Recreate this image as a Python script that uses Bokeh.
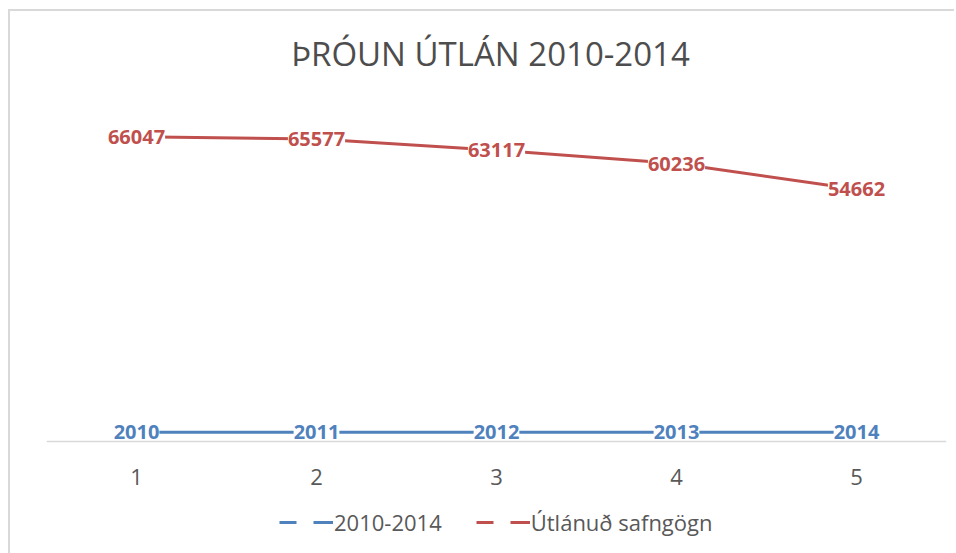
from bokeh.plotting import figure
from bokeh.layouts import column
from bokeh.models import ColumnDataSource, FactorRange, Range1d, Legend, LegendItem, Span, Label
from bokeh.core.properties import value
from bokeh.embed import file_html
from bokeh.resources import INLINE

# ---- data ----
categories = ["1", "2", "3", "4", "5"]
series_years = [2010, 2011, 2012, 2013, 2014]
series_loans = [66047, 65577, 63117, 60236, 54662]
series_names = ["2010-2014", "Útlánuð safngögn"]
title_text = "ÞRÓUN ÚTLÁN 2010-2014"
y_max = 70000

BLUE = "#4F81BD"
RED = "#C0504D"
GRAY_TXT = "#595959"
AXIS = "#D9D9D9"
FONT = "Open Sans"

# layout constants (pixels)
FRAME_H = 441          # frame height (title area included)
PLOT_H = 334           # height used by the value axis from y_min to y_max
y_min = -2384
y_top = y_min + (y_max - y_min) * FRAME_H / PLOT_H   # extra room above for the title

# ---------------- main chart ----------------
p = figure(width=944, height=491, title=None,
           x_range=FactorRange(factors=categories, range_padding=0),
           y_range=Range1d(y_min, y_top),
           output_backend="svg", toolbar_location=None,
           y_axis_location=None,
           min_border_left=36, min_border_right=8,
           min_border_top=0, min_border_bottom=50)
p.outline_line_color = None
p.grid.visible = False
p.background_fill_color = "white"
p.border_fill_color = "white"

xa = p.xaxis[0]
xa.axis_line_color = None
xa.major_tick_line_color = None
xa.minor_tick_line_color = None
xa.major_label_text_font = FONT
xa.major_label_text_font_size = "22px"
xa.major_label_text_color = GRAY_TXT
xa.major_label_standoff = 10

base = Span(location=0, dimension="width", line_color=AXIS, line_width=1.5, level="underlay")
p.add_layout(base)

title = Label(x=444, y=399, x_units="screen", y_units="screen", text=title_text,
              text_align="center", text_baseline="alphabetic",
              text_font=FONT, text_font_size="33px", text_color="#4D4D4D")
p.add_layout(title)

src = ColumnDataSource(data=dict(
    x=categories,
    years=series_years,
    loans=series_loans,
    years_txt=[str(v) for v in series_years],
    loans_txt=[str(v) for v in series_loans],
))

p.line(x="x", y="years", source=src, line_color=BLUE, line_width=3)
p.line(x="x", y="loans", source=src, line_color=RED, line_width=3)

for col, txt, color in [("years", "years_txt", BLUE), ("loans", "loans_txt", RED)]:
    p.text(x="x", y=col, text=txt, source=src,
           text_align="center", text_baseline="middle",
           text_font=value(FONT), text_font_style="bold", text_font_size="20px",
           text_color=color, background_fill_color="white")

# ---------------- legend strip ----------------
q = figure(width=944, height=51, title=None,
           x_range=FactorRange(factors=categories, range_padding=0), y_range=Range1d(-1, 0),
           output_backend="svg", toolbar_location=None,
           x_axis_location=None, y_axis_location=None,
           min_border_left=0, min_border_right=0, min_border_top=0, min_border_bottom=0)
q.outline_line_color = None
q.grid.visible = False
q.background_fill_color = "white"
q.border_fill_color = "white"

# legend key renderers: same series, lying outside this strip's visible range
lb = q.line(x="x", y="years", source=src, line_color=BLUE, line_width=3, line_dash="17 17 20")
lr = q.line(x="x", y="loans", source=src, line_color=RED, line_width=3, line_dash="17 17 20")
legend = Legend(items=[LegendItem(label=series_names[0], renderers=[lb]),
                       LegendItem(label=series_names[1], renderers=[lr])],
                orientation="horizontal", location=(233, 16),
                glyph_width=54, glyph_height=20, label_standoff=1, spacing=34,
                padding=0, margin=0, border_line_color=None, background_fill_alpha=0,
                label_text_font=FONT, label_text_font_size="22px", label_text_color=GRAY_TXT)
q.add_layout(legend, "center")

layout = column(p, q, spacing=0)
layout.margin = (9, 0, 0, 8)
layout.styles = {"border-top": "2px solid #D9D9D9", "border-left": "2px solid #D9D9D9"}

open("out.html", "w").write(file_html(layout, INLINE))
